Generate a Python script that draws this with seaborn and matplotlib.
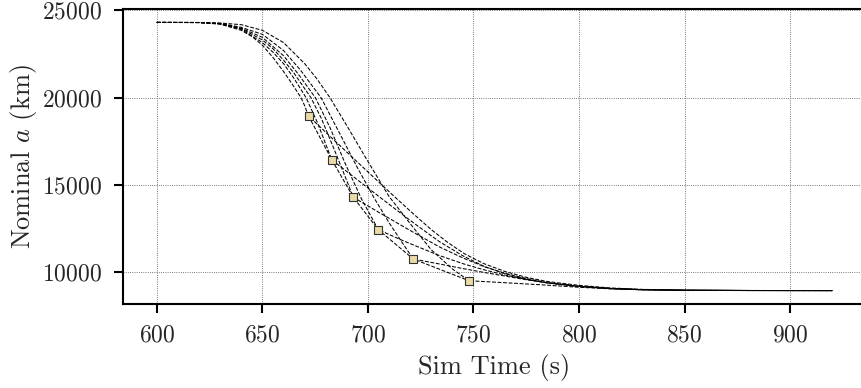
import matplotlib
matplotlib.use("Agg")
import matplotlib.pyplot as plt
import numpy as np
import pandas as pd
import seaborn as sns

# ---------------- data ----------------
# descent phase of each case, up to its marker
c1_t = [600, 620, 630, 640, 645, 650, 655, 660, 664, 668.3, 670, 671.9]
c1_a = [24300, 24290, 24200, 23850, 23500, 23000, 22300, 21500, 20800, 20000, 19550, 18945]
c2_t = [600, 620, 630, 640, 650, 655, 660, 665, 670.7, 676, 682.9]
c2_a = [24300, 24292, 24215, 23900, 23150, 22600, 21950, 21100, 20000, 18600, 16445]
c3_t = [600, 620, 630, 640, 650, 655, 660, 665, 673.0, 678, 684, 689, 693.1]
c3_a = [24300, 24293, 24225, 23940, 23300, 22800, 22150, 21400, 20000, 18800, 17050, 15550, 14300]
c4_t = [600, 620, 630, 640, 650, 660, 667, 675.1, 682, 689, 697, 704.9]
c4_a = [24300, 24294, 24235, 23970, 23450, 22400, 21350, 20000, 18300, 16300, 14200, 12448]
c5_t = [600, 620, 630, 640, 650, 660, 668, 677.8, 686, 695, 703, 710, 716, 721.5]
c5_a = [24300, 24295, 24245, 24020, 23620, 22700, 21580, 20000, 18100, 16000, 14250, 12850, 11750, 10768]
c6_t = [600, 620, 630, 640, 650, 660, 670, 676, 682.0, 690, 700, 710, 722, 730, 740, 747.9]
c6_a = [24300, 24297, 24265, 24170, 23850, 23150, 21950, 21050, 20000, 18400, 16350, 14350, 12490, 11300, 10200, 9524]

# coast phase of each case, after its marker
t1_t = [671.9, 685, 700, 712, 722, 730, 738, 746, 755, 765, 775, 785, 800, 815, 830, 850, 880, 920]
t1_a = [18945, 17450, 15750, 14400, 13300, 12450, 11700, 11050, 10500, 10050, 9720, 9480, 9260, 9110, 9030, 8985, 8965, 8960]
t2_t = [682.9, 695, 710, 722, 734, 745, 755, 765, 775, 785, 800, 815, 830, 850, 880, 920]
t2_a = [16445, 15300, 13900, 12800, 11750, 10950, 10350, 9920, 9620, 9400, 9200, 9080, 9015, 8980, 8965, 8960]
t3_t = [693.1, 705, 720, 734, 745, 755, 765, 775, 785, 800, 815, 830, 850, 880, 920]
t3_a = [14300, 13450, 12400, 11450, 10830, 10330, 9950, 9650, 9420, 9210, 9085, 9015, 8980, 8965, 8960]
t4_t = [704.9, 715, 725, 734, 745, 755, 765, 775, 785, 800, 815, 830, 850, 880, 920]
t4_a = [12448, 11900, 11400, 10960, 10500, 10150, 9850, 9600, 9400, 9190, 9070, 9010, 8980, 8965, 8960]
t5_t = [721.5, 734, 745, 755, 765, 775, 785, 800, 815, 830, 850, 880, 920]
t5_a = [10768, 10480, 10220, 10000, 9790, 9580, 9400, 9200, 9070, 9005, 8978, 8965, 8960]
t6_t = [747.9, 762, 781, 800, 815, 830, 850, 880, 920]
t6_a = [9524, 9430, 9300, 9150, 9060, 9005, 8975, 8962, 8960]

# event markers
marker_t = [671.9, 682.9, 693.1, 704.9, 721.5, 747.9]
marker_a = [18945, 16445, 14300, 12448, 10768, 9524]

xticks = [600, 650, 700, 750, 800, 850, 900]
yticks = [10000, 15000, 20000, 25000]

# ---------------- build table ----------------
pre = [(c1_t, c1_a), (c2_t, c2_a), (c3_t, c3_a), (c4_t, c4_a), (c5_t, c5_a), (c6_t, c6_a)]
post = [(t1_t, t1_a), (t2_t, t2_a), (t3_t, t3_a), (t4_t, t4_a), (t5_t, t5_a), (t6_t, t6_a)]
frames = []
for k, ((pt, pa), (qt, qa)) in enumerate(zip(pre, post)):
    frames.append(pd.DataFrame({"t": list(pt) + list(qt[1:]),
                                "a": list(pa) + list(qa[1:]),
                                "case": k}))
df = pd.concat(frames, ignore_index=True)

# ---------------- style ----------------
sns.set_theme(style="ticks")
plt.rcParams.update({
    "font.family": "serif",
    "font.serif": ["cmr10", "DejaVu Serif"],
    "mathtext.fontset": "cm",
    "axes.formatter.use_mathtext": True,
    "axes.unicode_minus": False,
})

fig = plt.figure(figsize=(8.62, 3.88), dpi=100)
ax = fig.add_axes([0.1427, 0.2165, 0.862, 0.7603])

sns.lineplot(data=df, x="t", y="a", units="case", estimator=None, sort=False,
             color="black", lw=0.75, linestyle="--", legend=False, ax=ax)
sns.lineplot(x=marker_t, y=marker_a, estimator=None, sort=False,
             color="black", lw=0.75, linestyle="--", ax=ax)
sns.scatterplot(x=marker_t, y=marker_a, marker="s", s=36, color="#eadba6",
                edgecolor="#333333", linewidth=0.8, zorder=5, ax=ax)

ax.set_xticks(xticks)
ax.set_yticks(yticks)
ax.grid(True, ls=":", lw=0.6, color="0.3")
ax.set_axisbelow(True)
for s in ["left", "bottom", "top"]:
    ax.spines[s].set_linewidth(1.5)
    ax.spines[s].set_color("black")
ax.spines["right"].set_visible(False)
ax.tick_params(axis="both", direction="out", length=6.5, width=1.5,
               labelsize=17, pad=8.5, color="black")

ax.set_xlabel("Sim Time (s)", fontsize=19, labelpad=5)
ax.set_ylabel("Nominal $a$ (km)", fontsize=19, labelpad=2)

fig.savefig("out.png", dpi=100)
